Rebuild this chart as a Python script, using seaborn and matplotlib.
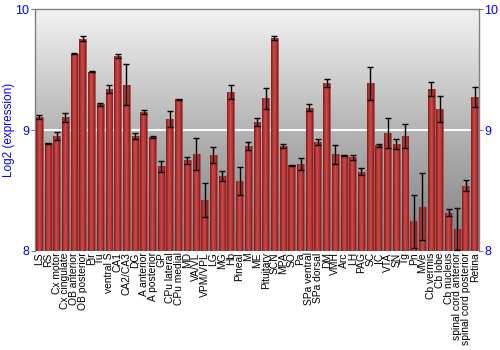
import numpy as np
import pandas as pd
import matplotlib
matplotlib.use("Agg")
import matplotlib.pyplot as plt
from matplotlib.colors import LinearSegmentedColormap
import seaborn as sns

regions = ["LS", "RS", "Cx motor", "Cx cingulate", "OB anterior", "OB posterior", "Pir", "Tu",
           "ventral S", "CA1", "CA2/CA3", "DG", "A anterior", "A posterior", "GP", "CPu lateral",
           "CPu medial", "MD", "VA/VL", "VPM/VPL", "LG", "MG", "Hb", "Pineal", "M", "ME",
           "Pituitary", "SCN", "MPA", "SO", "Pa", "SPa ventral", "SPa dorsal", "DM", "VMH", "Arc",
           "LH", "PAG", "SC", "IC", "VTA", "SN", "Tg", "Pn", "MVe", "Cb vermis", "Cb lobe",
           "Cb nucleus", "spinal cord anterior", "spinal cord posterior", "Retina"]
expression = [9.108, 8.889, 8.950, 9.105, 9.630, 9.754, 9.481, 9.213,
              9.337, 9.613, 9.373, 8.950, 9.146, 8.942, 8.699, 9.091,
              9.254, 8.751, 8.801, 8.420, 8.793, 8.622, 9.312, 8.577, 8.867, 9.066,
              9.262, 9.760, 8.867, 8.707, 8.718, 9.185, 8.901, 9.390, 8.798, 8.790,
              8.776, 8.655, 9.387, 8.873, 8.972, 8.884, 8.950, 8.246, 8.367, 9.337, 9.177,
              8.315, 8.180, 8.541, 9.276]
error = [0.017, 0.005, 0.030, 0.037, 0.005, 0.020, 0.004, 0.014,
         0.033, 0.017, 0.170, 0.025, 0.017, 0.005, 0.047, 0.065,
         0.005, 0.030, 0.134, 0.142, 0.066, 0.040, 0.058, 0.115, 0.033, 0.033,
         0.088, 0.018, 0.015, 0.003, 0.052, 0.030, 0.028, 0.036, 0.076, 0.003,
         0.020, 0.028, 0.138, 0.014, 0.124, 0.043, 0.100, 0.218, 0.280, 0.058, 0.108,
         0.030, 0.175, 0.046, 0.083]
y_ticks = [8, 9, 10]

df = pd.DataFrame({"region": regions, "expression": expression, "error": error})

sns.set_style("white")
plt.rcParams["font.family"] = ["Liberation Sans", "DejaVu Sans"]

fig = plt.figure(figsize=(5, 3.5), dpi=100)
ax = fig.add_axes([0.07, 0.283, 0.888, 0.691])

# background gradient
bg = LinearSegmentedColormap.from_list("bg", ["#7e7e7e", "#b4b4b4", "#f2f2f2"])
grad = np.linspace(0, 1, 256).reshape(-1, 1)
ax.imshow(grad, aspect="auto", cmap=bg, origin="lower",
          extent=(-0.5, len(regions) - 0.5, 8, 10), zorder=0)
ax.axhline(9, color="white", lw=1.5, zorder=1)

sns.barplot(data=df, x="region", y="expression", ax=ax, color="#b03030",
            width=0.8, edgecolor="#9a5a5a", linewidth=0.6, zorder=2, errorbar=None)

bar_cmap = LinearSegmentedColormap.from_list(
    "bar", ["#7a1c1c", "#b83434", "#cc4a4a", "#b83434", "#7e1e1e"])
hgrad = np.linspace(0, 1, 64).reshape(1, -1)
for p in ax.patches:
    x0 = p.get_x()
    w = p.get_width()
    h = p.get_height()
    im = ax.imshow(hgrad, aspect="auto", cmap=bar_cmap,
                   extent=(x0, x0 + w, 8, h), zorder=3)
    im.set_clip_path(p)

xs = [p.get_x() + p.get_width() / 2 for p in ax.patches]
ax.errorbar(xs, df["expression"], yerr=df["error"], fmt="none", ecolor="black",
            elinewidth=1, capsize=2, capthick=1, zorder=4)

ax.set_xlim(-0.5, len(regions) - 0.5)
ax.set_ylim(8, 10)
ax.set_yticks(y_ticks)
ax.set_yticklabels([str(t) for t in y_ticks])
ax.set_xlabel("")
ax.set_ylabel("Log2 (expression)", color="#0000ff", fontsize=8.5, va="center")
ax.yaxis.set_label_coords(-0.059, 0.5)
ax.tick_params(axis="y", colors="#808080", labelcolor="#0000ff", labelsize=9,
               length=3, width=0.8, left=True, right=True, labelleft=True,
               labelright=True, direction="out", pad=1)
ax.tick_params(axis="x", length=0, labelsize=7.4, pad=1, labelcolor="black")
plt.setp(ax.get_xticklabels(), rotation=90)
for s in ["left", "top", "right"]:
    ax.spines[s].set_color("#808080")
    ax.spines[s].set_linewidth(1)
ax.spines["bottom"].set_visible(False)

fig.savefig("out.png", dpi=100)
